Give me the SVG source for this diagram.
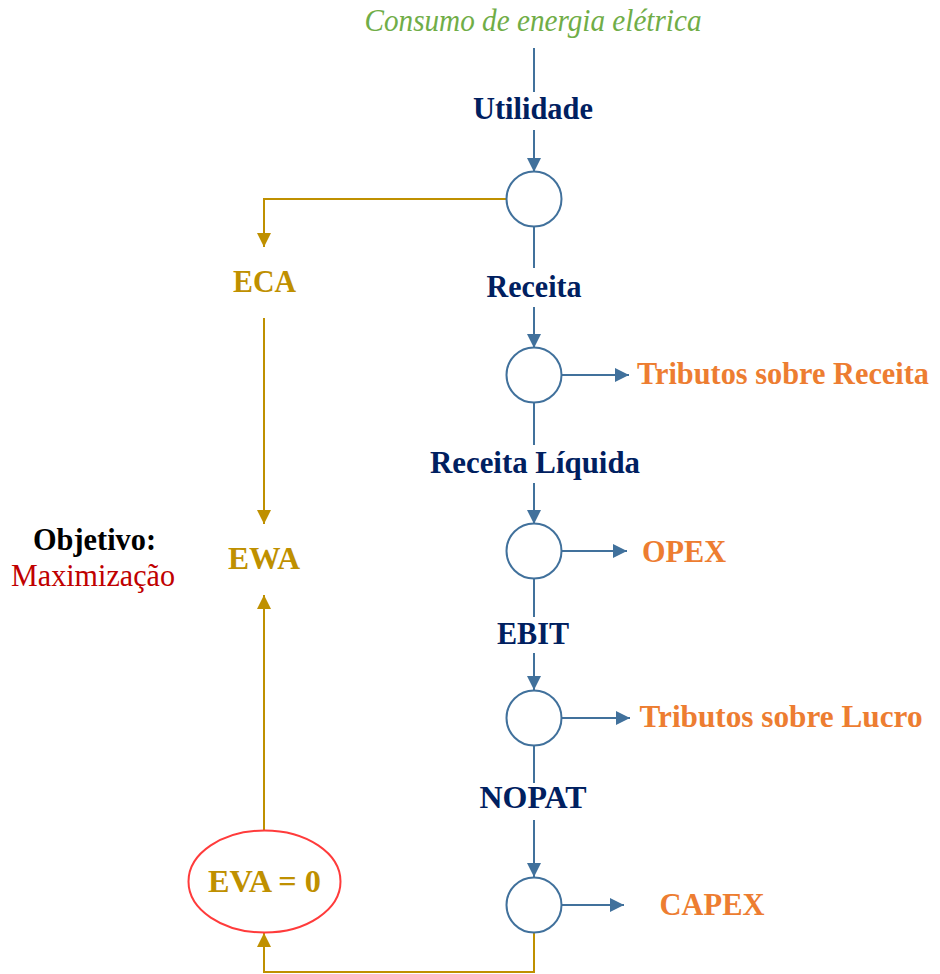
<svg xmlns="http://www.w3.org/2000/svg" width="940" height="974" viewBox="0 0 940 974">
  <style>
    text { font-family: "Liberation Serif", "Times New Roman", serif; font-size: 32px; text-anchor: middle; }
    .b { font-weight: bold; }
    .start { text-anchor: start; }
    .navy { fill: #002060; }
    .orange { fill: #ED7D31; }
    .gold { fill: #BF9000; }
    .blue-line { stroke: #41719C; stroke-width: 2; fill: none; }
    .gold-line { stroke: #BF9000; stroke-width: 2; fill: none; }
    .node-circle { fill: #FFFFFF; stroke: #41719C; stroke-width: 2; }
  </style>
  <defs>
    <marker id="ah-blue" markerUnits="userSpaceOnUse" markerWidth="16" markerHeight="16" refX="14" refY="7" orient="auto" overflow="visible">
      <path d="M0,0 L14,7 L0,14 z" fill="#41719C"/>
    </marker>
    <marker id="ah-gold" markerUnits="userSpaceOnUse" markerWidth="16" markerHeight="16" refX="14" refY="7" orient="auto" overflow="visible">
      <path d="M0,0 L14,7 L0,14 z" fill="#BF9000"/>
    </marker>
  </defs>

  <rect width="940" height="974" fill="#FFFFFF"/>

  <!-- connectors -->
  <g id="connectors">
    <line class="blue-line" x1="534" y1="48" x2="534" y2="92"/>
    <line class="blue-line" x1="534" y1="130" x2="534" y2="172" marker-end="url(#ah-blue)"/>
    <line class="blue-line" x1="534" y1="227" x2="534" y2="268"/>
    <line class="blue-line" x1="534" y1="307" x2="534" y2="348" marker-end="url(#ah-blue)"/>
    <line class="blue-line" x1="534" y1="403" x2="534" y2="445"/>
    <line class="blue-line" x1="534" y1="483" x2="534" y2="524" marker-end="url(#ah-blue)"/>
    <line class="blue-line" x1="534" y1="579" x2="534" y2="617"/>
    <line class="blue-line" x1="534" y1="653" x2="534" y2="690" marker-end="url(#ah-blue)"/>
    <line class="blue-line" x1="534" y1="746" x2="534" y2="783"/>
    <line class="blue-line" x1="534" y1="820" x2="534" y2="877" marker-end="url(#ah-blue)"/>

    <line class="blue-line" x1="562" y1="375" x2="629" y2="375" marker-end="url(#ah-blue)"/>
    <line class="blue-line" x1="561" y1="551" x2="627" y2="551" marker-end="url(#ah-blue)"/>
    <line class="blue-line" x1="561" y1="718" x2="630" y2="718" marker-end="url(#ah-blue)"/>
    <line class="blue-line" x1="561" y1="905" x2="624" y2="905" marker-end="url(#ah-blue)"/>

    <polyline class="gold-line" points="506,199 264,199 264,247" marker-end="url(#ah-gold)"/>
    <line class="gold-line" x1="264" y1="318" x2="264" y2="524" marker-end="url(#ah-gold)"/>
    <line class="gold-line" x1="264" y1="830" x2="264" y2="595" marker-end="url(#ah-gold)"/>
    <polyline class="gold-line" points="534,933 534,972 264,972 264,933" marker-end="url(#ah-gold)"/>
  </g>

  <!-- title -->
  <g id="source">
    <text x="533" y="31" font-style="italic" font-size="30" fill="#70AD47" textLength="337" lengthAdjust="spacingAndGlyphs">Consumo de energia elétrica</text>
  </g>

  <!-- flow values -->
  <g id="utilidade"><text class="b navy" x="533" y="119" textLength="120" lengthAdjust="spacingAndGlyphs">Utilidade</text></g>
  <g id="receita"><text class="b navy" x="534" y="297" textLength="95" lengthAdjust="spacingAndGlyphs">Receita</text></g>
  <g id="receita-liquida"><text class="b navy" x="535" y="473" textLength="210" lengthAdjust="spacingAndGlyphs">Receita Líquida</text></g>
  <g id="ebit"><text class="b navy" x="533" y="644" textLength="72" lengthAdjust="spacingAndGlyphs">EBIT</text></g>
  <g id="nopat"><text class="b navy" x="533" y="808" textLength="107" lengthAdjust="spacingAndGlyphs">NOPAT</text></g>

  <!-- junction nodes -->
  <g id="junction-1"><circle class="node-circle" cx="534" cy="199" r="27.5"/></g>
  <g id="junction-2"><circle class="node-circle" cx="534" cy="375" r="27.5"/></g>
  <g id="junction-3"><circle class="node-circle" cx="534" cy="551" r="27.5"/></g>
  <g id="junction-4"><circle class="node-circle" cx="534" cy="718" r="27.5"/></g>
  <g id="junction-5"><circle class="node-circle" cx="534" cy="905" r="27.5"/></g>

  <!-- deductions -->
  <g id="tributos-receita"><text class="b orange start" x="637" y="384" font-size="30" textLength="292" lengthAdjust="spacingAndGlyphs">Tributos sobre Receita</text></g>
  <g id="opex"><text class="b orange" x="684" y="562" textLength="84" lengthAdjust="spacingAndGlyphs">OPEX</text></g>
  <g id="tributos-lucro"><text class="b orange" x="781" y="727" textLength="283" lengthAdjust="spacingAndGlyphs">Tributos sobre Lucro</text></g>
  <g id="capex"><text class="b orange" x="712" y="915" textLength="105" lengthAdjust="spacingAndGlyphs">CAPEX</text></g>

  <!-- value chain on the left -->
  <g id="eca"><text class="b gold" x="264.5" y="292" textLength="63" lengthAdjust="spacingAndGlyphs">ECA</text></g>
  <g id="ewa"><text class="b gold" x="264" y="569" textLength="72" lengthAdjust="spacingAndGlyphs">EWA</text></g>
  <g id="eva">
    <ellipse cx="264.5" cy="881.5" rx="76" ry="51" fill="#FFFFFF" stroke="#FF3B3B" stroke-width="2"/>
    <text class="b gold" x="264.5" y="892" textLength="113" lengthAdjust="spacingAndGlyphs">EVA = 0</text>
  </g>

  <g id="objetivo">
    <text class="b" x="94.5" y="550" fill="#000000" textLength="123" lengthAdjust="spacingAndGlyphs">Objetivo:</text>
    <text x="93" y="586" fill="#C00000" textLength="164" lengthAdjust="spacingAndGlyphs">Maximização</text>
  </g>
</svg>
